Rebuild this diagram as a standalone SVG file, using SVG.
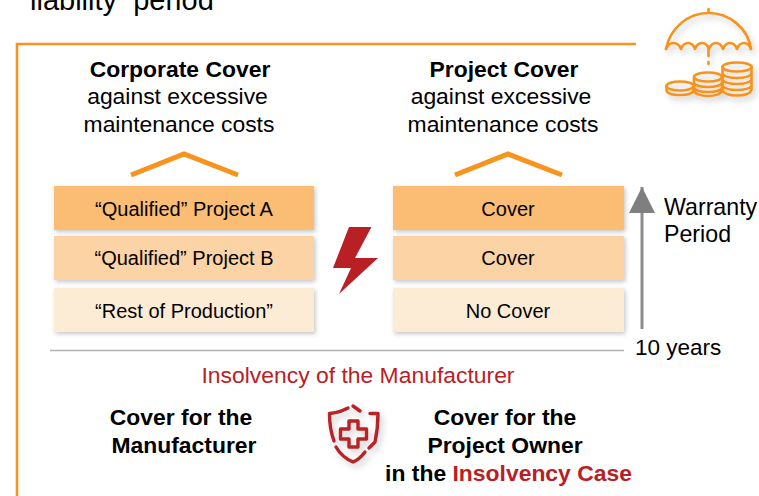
<svg xmlns="http://www.w3.org/2000/svg" width="759" height="496" viewBox="0 0 759 496">
<defs>
<filter id="sh" x="-10%" y="-20%" width="120%" height="150%"><feDropShadow dx="1.5" dy="2" stdDeviation="2" flood-color="#000" flood-opacity="0.22"/></filter>
<filter id="ish" x="-20%" y="-20%" width="140%" height="140%"><feDropShadow dx="3" dy="4" stdDeviation="3" flood-color="#000" flood-opacity="0.2"/></filter>
<marker id="ah" markerUnits="userSpaceOnUse" markerWidth="26" markerHeight="26" refX="26" refY="13" orient="auto"><path d="M0,0L26,13L0,26Z" fill="#7f7f7f"/></marker>
</defs>
<style>
text{font-family:"Liberation Sans",Arial,sans-serif;fill:#000}
.h{font-size:22.9px;text-anchor:middle}
.b{font-weight:700}
.c{font-size:20px;text-anchor:middle}
.a{fill:#fabd73}.m{fill:#fcd3a4}.l{fill:#fdecd5}
.roof{fill:none;stroke:#f7931e;stroke-width:5}
.ic{fill:none;stroke:#f7931e;stroke-width:2.6;stroke-linecap:round;stroke-linejoin:round}
.rd{fill:none;stroke:#b92025;stroke-width:3.4;stroke-linecap:round;stroke-linejoin:round}
</style>
<text x="30" y="10" font-size="29" xml:space="preserve">liability  period</text>
<g id="frame"><path d="M636,44H17V496" fill="none" stroke="#f7931e" stroke-width="2.6"/></g>
<g id="icon-umbrella" filter="url(#ish)">
<path class="ic" d="M666,49C670,28 688,13 708.500,13C729,13 748,28 751,49M708.500,13V9"/>
<path class="ic" d="M666,49C669,41 678,41 681,49C684,41 692,41 695,49C698,41 706,41 709,49C712,41 720,41 723,49C726,41 734,41 737,49C740,41 748,41 751,49"/>
<path class="ic" d="M708.500,49V56M708.500,62V64"/>
<ellipse class="ic" cx="680" cy="86" rx="13.500" ry="4.500"/><path class="ic" d="M666.500,86V90C667,93 672,95 680,95C688,95 693,93 693.500,90V86"/>
<ellipse class="ic" cx="708" cy="77" rx="14" ry="4.500"/><path class="ic" d="M694,77V91C695,94 701,96 708,96C715,96 721,94 722,91V77M694,83C696,86 702,87 708,87C714,87 720,86 722,83M694,88C696,91 702,92 708,92C714,92 720,91 722,88"/>
<ellipse class="ic" cx="737" cy="67" rx="14.500" ry="4.500"/><path class="ic" d="M722.500,67V90C724,94 730,95.500 737,95.500C744,95.500 750,94 751.500,90V67M722.500,74C725,77 731,78 737,78C743,78 749,77 751.500,74M722.500,80C725,83 731,84 737,84C743,84 749,83 751.500,80M722.500,86C725,89 731,90 737,90C743,90 749,89 751.500,86"/>
</g>
<g id="corporate-title">
<text class="h b" x="180" y="77">Corporate Cover</text>
<text class="h" x="177.500" y="104">against excessive</text>
<text class="h" x="179" y="132">maintenance costs</text>
</g>
<g id="project-title">
<text class="h b" x="504" y="77">Project Cover</text>
<text class="h" x="501" y="104">against excessive</text>
<text class="h" x="503" y="132">maintenance costs</text>
</g>
<path class="roof" d="M131,175L184,154L238,175"/>
<path class="roof" d="M455,175L508,154L562,175"/>
<g id="project-a"><rect class="a" x="54" y="186" width="260" height="44" filter="url(#sh)"/><text class="c" x="184" y="216">“Qualified” Project A</text></g>
<g id="project-b"><rect class="m" x="54" y="236" width="260" height="44" filter="url(#sh)"/><text class="c" x="184" y="265">“Qualified” Project B</text></g>
<g id="rest"><rect class="l" x="54" y="288" width="260" height="44" filter="url(#sh)"/><text class="c" x="184" y="318">“Rest of Production”</text></g>
<g id="cover-a"><rect class="a" x="393" y="186" width="231" height="44" filter="url(#sh)"/><text class="c" x="508" y="216">Cover</text></g>
<g id="cover-b"><rect class="m" x="393" y="236" width="231" height="44" filter="url(#sh)"/><text class="c" x="508" y="265">Cover</text></g>
<g id="no-cover"><rect class="l" x="393" y="288" width="231" height="44" filter="url(#sh)"/><text class="c" x="508" y="318">No Cover</text></g>
<g id="bolt"><path d="M349,227H371.500L355,258H378L339,294L351,268H333Z" fill="#b92025"/></g>
<g id="connectors">
<path d="M50,350.500H624" stroke="#b3b3b3" stroke-width="1.500" fill="none"/>
<path d="M642,329V187" stroke="#8c8c8c" stroke-width="3" fill="none" marker-end="url(#ah)"/>
</g>
<g id="warranty"><text font-size="23.200" x="664" y="215">Warranty</text><text font-size="23.200" x="664" y="242">Period</text></g>
<text id="years" font-size="22.500" x="635" y="355">10 years</text>
<text id="insolvency" x="358" y="383" font-size="22.900" text-anchor="middle" style="fill:#b92025">Insolvency of the Manufacturer</text>
<g id="cover-manufacturer"><text class="h b" x="181" y="425">Cover for the</text><text class="h b" x="184" y="453">Manufacturer</text></g>
<g id="shield" filter="url(#ish)">
<path class="rd" d="M348,408C342,411 336,413 329.500,413.500C329.500,425 331,433 334,441M353,406L360,411M370,413.500H378C378,423 377,433 375,442L369,448M336,447C340,454 346,459 353,462C358,460 362,456 365,452"/>
<path class="rd" d="M349,421H358V429H366.500V439H358V447H349V439H340.500V429H349Z"/>
</g>
<g id="cover-owner">
<text class="h b" x="505" y="425">Cover for the</text>
<text class="h b" x="505" y="453">Project Owner</text>
<text class="h b" x="508.500" y="481">in the <tspan style="fill:#b92025">Insolvency Case</tspan></text>
</g>
</svg>
